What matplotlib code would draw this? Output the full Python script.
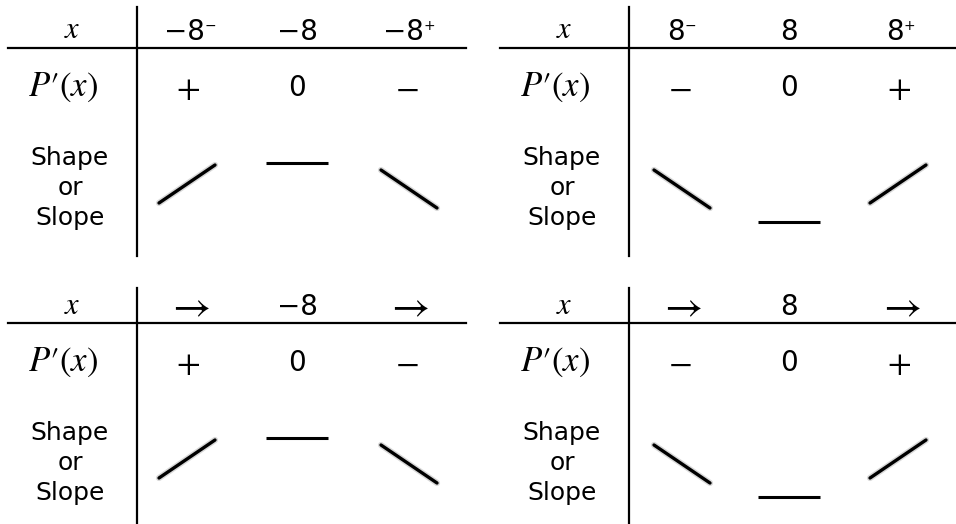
import numpy as np
import matplotlib
matplotlib.use('Agg')
import matplotlib.pyplot as plt

plt.rcParams['mathtext.fontset'] = 'stix'
plt.rcParams['font.family'] = ['DejaVu Sans']

# 四个符号表：表头（主体 + 上标）、导数符号、曲线形状
x_base = [['−8', '−8', '−8'],
          ['8', '8', '8'],
          [r'$\rightarrow$', '−8', r'$\rightarrow$'],
          [r'$\rightarrow$', '8', r'$\rightarrow$']]
x_sup = [['−', '', '+'],
         ['−', '', '+'],
         ['', '', ''],
         ['', '', '']]
signs = [['+', '0', '-'],
         ['-', '0', '+'],
         ['+', '0', '-'],
         ['-', '0', '+']]
# 1 上升, 0 水平, -1 下降
slopes = [[1, 0, -1],
          [-1, 0, 1],
          [1, 0, -1],
          [-1, 0, 1]]
# 水平线段位置：极大值在上, 极小值在下
flat_level = ['high', 'low', 'high', 'low']

# 布局（像素）
panel_origin = [(0, 0), (492, 0), (0, 275), (492, 275)]
vline_top = [7, 7, 13, 13]
col_x = [188, 297, 407]
label_x = 70
row_y = {'head': 32, 'sign': 88, 'shape': 187}


def draw_panel(ax, k):
    ox, oy = panel_origin[k]
    # 表格线
    ax.plot([ox + 137, ox + 137], [oy + vline_top[k], oy + 256], color='black', lw=1.6)
    ax.plot([ox + 8, ox + 466], [oy + 48, oy + 48], color='black', lw=1.6)

    # 左侧标签
    ax.text(ox + label_x + 2, oy + row_y['head'] - 2, r'$x$', fontsize=22,
            ha='center', va='center')
    ax.text(ox + label_x - 7, oy + row_y['sign'] - 1, r"$P{\prime}\left(x\right)$", fontsize=25,
            ha='center', va='center')
    ax.text(ox + label_x, oy + row_y['shape'] + 1, 'Shape\nor\nSlope', fontsize=18,
            ha='center', va='center', multialignment='center', linespacing=1.3)

    for j in range(3):
        cx = ox + col_x[j]
        lab = x_base[k][j]
        sup = x_sup[k][j]
        if '$' in lab:
            ax.text(cx, oy + row_y['head'] - 2, lab, fontsize=30, ha='center', va='center')
        else:
            shift = -4 if sup else 0
            t = ax.text(cx + shift, oy + row_y['head'], lab, fontsize=20,
                        ha='center', va='center')
            if sup:
                ax.annotate(sup, xy=(1, 1), xycoords=t, xytext=(0, -0.5),
                            textcoords='offset points', fontsize=10, ha='left', va='top')
        s = signs[k][j]
        if s == '0':
            ax.text(cx, oy + row_y['sign'], '0', fontsize=20, ha='center', va='center')
        else:
            ax.text(cx, oy + row_y['sign'] + (1 if s == '+' else 0), '$' + s + '$', fontsize=25,
                    ha='center', va='center')

        sl = slopes[k][j]
        cy = oy + row_y['shape']
        if sl == 0:
            fy = cy - 24 if flat_level[k] == 'high' else cy + 35
            ax.plot([cx - 31, cx + 31], [fy, fy], color='black', lw=2.2, solid_capstyle='butt')
        else:
            dx, dy = 28, 19 * sl
            xs = np.array([cx - dx, cx + dx]) + (-1 if sl > 0 else 2)
            ys = np.array([cy + dy, cy - dy]) + (-3 if sl > 0 else 2)
            # 模糊边缘
            ax.plot(xs, ys, color='gray', lw=4.5, alpha=0.3, solid_capstyle='round')
            ax.plot(xs, ys, color='black', lw=2.4, solid_capstyle='round')


fig = plt.figure(figsize=(9.56, 5.24), dpi=100)
ax = fig.add_axes([0, 0, 1, 1])
ax.set_xlim(0, 956)
ax.set_ylim(524, 0)
ax.axis('off')

for k in range(4):
    draw_panel(ax, k)

fig.savefig('out.png', dpi=100)
